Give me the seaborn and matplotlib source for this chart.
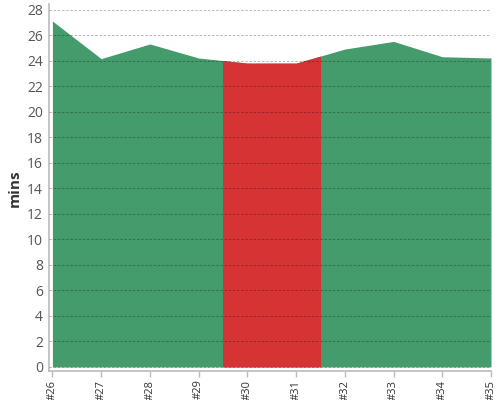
import numpy as np
import pandas as pd
import seaborn as sns
import matplotlib.pyplot as plt
from matplotlib.patches import Rectangle

sprints = ["#26", "#27", "#28", "#29", "#30", "#31", "#32", "#33", "#34", "#35"]
mins = [27.1, 24.15, 25.3, 24.2, 23.8, 23.8, 24.9, 25.5, 24.3, 24.2]
highlight = ["#30", "#31"]

green = "#449b6c"
red = "#d63335"

sns.set_theme(style="white")
plt.rcParams["font.family"] = ["Open Sans", "DejaVu Sans"]

df = pd.DataFrame({"sprint": sprints, "mins": mins})
df["pos"] = np.arange(len(df))

fig = plt.figure(figsize=(5, 4), dpi=100)
ax = fig.add_axes([0.097, 0.072, 0.885, 0.917])

# whole area in green, then the highlighted sprints redrawn in red
ax.fill_between(df["pos"], df["mins"], 0, color=green, linewidth=0, zorder=1)
red_area = ax.fill_between(df["pos"], df["mins"], 0, color=red, linewidth=0, zorder=2)
hi = df[df["sprint"].isin(highlight)]["pos"]
clip = Rectangle((hi.min() - 0.5, -1), hi.max() - hi.min() + 1, 100, transform=ax.transData)
red_area.set_clip_path(clip)

ax.set_xlim(-0.08, len(df) - 1)
ax.set_ylim(-0.34, 28.4)
ax.set_yticks(range(0, 29, 2))
ax.set_xticks(df["pos"])
ax.set_xticklabels(df["sprint"], rotation=90, fontsize=8, color="#333333")
ax.tick_params(axis="y", labelsize=10, labelcolor="#555555", length=0, pad=4)
ax.tick_params(axis="x", length=4, width=1, color="#bbbbbb", pad=2, bottom=True)

ax.grid(axis="y", linestyle=(0, (3, 2)), color="black", linewidth=0.6, alpha=0.32)
ax.set_axisbelow(False)
for s in ["top", "right"]:
    ax.spines[s].set_visible(False)
for s in ["left", "bottom"]:
    ax.spines[s].set_color("#bbbbbb")
    ax.spines[s].set_linewidth(1.2)

ax.set_ylabel("mins", fontsize=11, fontweight="bold", color="#333333", labelpad=4)
ax.set_xlabel("")

fig.savefig("out.png", dpi=100)
